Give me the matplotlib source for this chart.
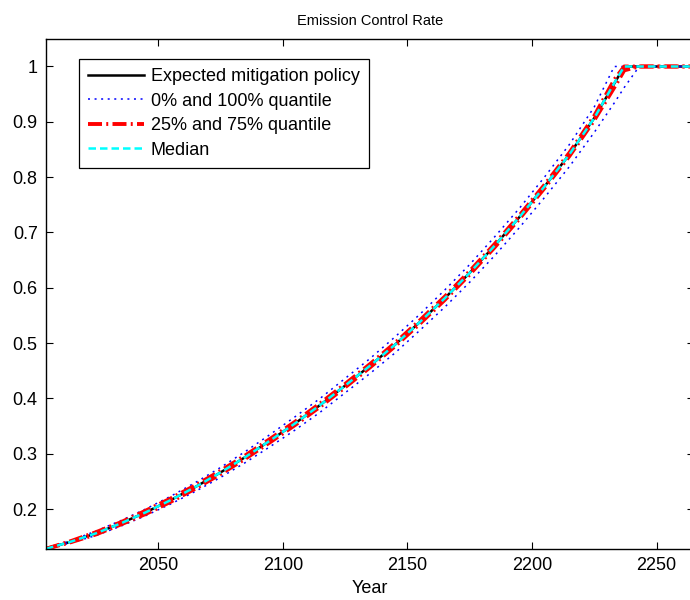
import numpy as np
import matplotlib
matplotlib.use('Agg')
import matplotlib.pyplot as plt

plt.rcParams['font.family'] = ['Liberation Sans', 'DejaVu Sans']

# years of the policy path
years = [2005, 2015, 2025, 2035, 2045, 2055, 2065, 2075, 2085, 2095,
         2105, 2115, 2125, 2135, 2145, 2155, 2165, 2175, 2185, 2195,
         2205, 2215, 2225, 2233, 2237, 2243, 2265]

expected = [0.128, 0.141, 0.156, 0.174, 0.194, 0.216, 0.240, 0.266, 0.294, 0.324,
            0.355, 0.388, 0.423, 0.459, 0.497, 0.538, 0.581, 0.627, 0.676, 0.728,
            0.783, 0.841, 0.907, 0.969, 1.000, 1.000, 1.000]

q0 = [0.128, 0.139, 0.152, 0.169, 0.188, 0.209, 0.232, 0.257, 0.284, 0.313,
      0.343, 0.375, 0.410, 0.445, 0.482, 0.523, 0.565, 0.610, 0.658, 0.709,
      0.763, 0.819, 0.881, 0.934, 0.962, 1.000, 1.000]

q25 = [0.128, 0.140, 0.154, 0.172, 0.191, 0.213, 0.237, 0.263, 0.291, 0.321,
       0.352, 0.385, 0.420, 0.456, 0.494, 0.535, 0.578, 0.624, 0.673, 0.725,
       0.780, 0.838, 0.903, 0.962, 0.993, 1.000, 1.000]

q50 = [0.128, 0.141, 0.156, 0.174, 0.194, 0.216, 0.240, 0.266, 0.294, 0.324,
       0.355, 0.388, 0.423, 0.459, 0.497, 0.538, 0.581, 0.627, 0.676, 0.728,
       0.783, 0.841, 0.907, 0.970, 1.000, 1.000, 1.000]

q75 = [0.128, 0.142, 0.158, 0.176, 0.197, 0.219, 0.243, 0.269, 0.297, 0.327,
       0.358, 0.391, 0.426, 0.462, 0.500, 0.541, 0.584, 0.630, 0.679, 0.731,
       0.786, 0.844, 0.911, 0.976, 1.000, 1.000, 1.000]

q100 = [0.128, 0.143, 0.160, 0.179, 0.200, 0.223, 0.248, 0.275, 0.304, 0.335,
        0.367, 0.400, 0.436, 0.472, 0.511, 0.552, 0.596, 0.642, 0.692, 0.744,
        0.800, 0.859, 0.927, 1.000, 1.000, 1.000, 1.000]

xticks = [2050, 2100, 2150, 2200, 2250]
yticks = [0.2, 0.3, 0.4, 0.5, 0.6, 0.7, 0.8, 0.9, 1.0]
ytick_labels = ['0.2', '0.3', '0.4', '0.5', '0.6', '0.7', '0.8', '0.9', '1']

fig = plt.figure(figsize=(6.9, 6.0), dpi=100)
ax = fig.add_axes([46 / 690, 51 / 600, 648 / 690, 510 / 600])

dot_style = (0, (1.3, 3))
dashdot_style = (0, (3.6, 1.1, 0.5, 1.1))

ax.plot(years, expected, color='black', lw=1.8, label='Expected mitigation policy')
ax.plot(years, q0, color='blue', lw=1.1, ls=dot_style, label='0% and 100% quantile')
ax.plot(years, q100, color='blue', lw=1.1, ls=dot_style)
ax.plot(years, q25, color='red', lw=2.8, ls=dashdot_style, label='25% and 75% quantile')
ax.plot(years, q75, color='red', lw=2.8, ls=dashdot_style)
ax.plot(years, q50, color='cyan', lw=1.8, ls=(0, (3, 1.6)), label='Median')

ax.set_xlim(2005, 2265)
ax.set_ylim(0.1277, 1.0497)
ax.set_xticks(xticks)
ax.set_yticks(yticks)
ax.set_yticklabels(ytick_labels)
ax.tick_params(direction='in', length=5, width=0.8, top=True, right=True,
               labelsize=13, pad=6)
for s in ax.spines.values():
    s.set_linewidth(1.0)

ax.set_xlabel('Year', fontsize=13, labelpad=4)
ax.set_title('Emission Control Rate', fontsize=10.5, pad=10)

leg = ax.legend(loc='upper left', bbox_to_anchor=(33 / 648, 1 - 20 / 510),
                borderaxespad=0, fontsize=13, handlelength=3.1, handletextpad=0.37,
                labelspacing=0.42, fancybox=False, framealpha=1, edgecolor='black',
                borderpad=0.5)
leg.get_frame().set_linewidth(0.9)

plt.savefig('out.png', dpi=100)
